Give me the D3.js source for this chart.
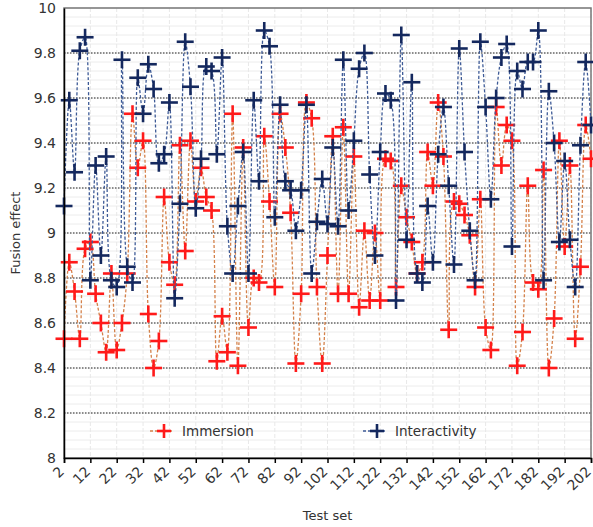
<!DOCTYPE html>
<html>
<head>
<meta charset="utf-8">
<script src="https://cdn.jsdelivr.net/npm/d3@7"></script>
<style>
  body { margin: 0; background: #fff; }
  text { font-family: "DejaVu Sans", Verdana, sans-serif; fill: #333; }
</style>
</head>
<body>
<script>
// test set numbers 2, 4, ... 202
const testSet = d3.range(2, 203, 2);

const immersion = [
  8.53, 8.87, 8.74, 8.53, 8.93, 8.96, 8.73, 8.60, 8.47, 8.82,
  8.48, 8.60, 8.82, 9.53, 9.29, 9.41, 8.64, 8.40, 8.52, 9.16,
  8.87, 8.77, 9.39, 8.92, 9.41, 9.14, 9.29, 9.16, 9.10, 8.43,
  8.63, 8.47, 9.53, 8.41, 9.38, 8.58, 8.80, 8.78, 9.43, 9.14,
  8.76, 9.53, 9.38, 9.09, 8.42, 8.73, 9.58, 9.51, 8.76, 8.42,
  8.90, 9.43, 8.73, 9.47, 8.73, 9.34, 8.67, 9.01, 8.70, 9.00,
  8.70, 9.33, 9.32, 8.76, 9.21, 9.07, 8.96, 8.82, 8.87, 9.36,
  9.21, 9.58, 9.34, 8.57, 9.14, 9.13, 9.08, 8.99, 8.76, 9.15,
  8.58, 8.48, 9.56, 9.30, 9.48, 9.41, 8.41, 8.56, 9.21, 8.78,
  8.75, 9.28, 8.40, 8.62, 9.41, 8.94, 9.30, 8.53, 8.85, 9.48,
  9.33
];

const interactivity = [
  9.12, 9.59, 9.27, 9.81, 9.87, 8.79, 9.30, 8.90, 9.34, 8.79,
  8.76, 9.77, 8.85, 8.78, 9.69, 9.53, 9.75, 9.64, 9.31, 9.35,
  9.58, 8.71, 9.13, 9.85, 9.65, 9.11, 9.33, 9.74, 9.72, 9.35,
  9.78, 9.03, 8.82, 9.12, 9.36, 8.82, 9.59, 9.23, 9.90, 9.83,
  9.07, 9.57, 9.23, 9.19, 9.01, 9.19, 9.57, 8.82, 9.05, 9.24,
  9.04, 9.38, 9.03, 9.77, 9.10, 9.41, 9.73, 9.80, 9.26, 8.90,
  9.36, 9.62, 9.59, 8.70, 9.88, 8.97, 9.67, 8.82, 8.78, 9.12,
  8.87, 9.35, 9.56, 9.21, 8.86, 9.82, 9.36, 9.01, 8.79, 9.85,
  9.56, 9.15, 9.60, 9.78, 9.84, 8.94, 9.72, 9.64, 9.76, 9.76,
  9.90, 8.79, 9.63, 9.40, 8.96, 9.32, 8.97, 8.76, 9.39, 9.76,
  9.48
];

const xTicks = d3.range(2, 203, 10);
const yTicks = [8, 8.2, 8.4, 8.6, 8.8, 9, 9.2, 9.4, 9.6, 9.8, 10];

const series = [
  { name: 'Immersion', values: immersion, line: '#d4814a', mark: '#ff1a1a' },
  { name: 'Interactivity', values: interactivity, line: '#3d5a96', mark: '#14285e' }
];

const width = 593, height = 527;
const margin = { top: 8, right: 2, bottom: 69, left: 64 };

const svg = d3.select('body').append('svg')
  .attr('width', width)
  .attr('height', height);

const x = d3.scaleLinear().domain([2, 202]).range([margin.left, width - margin.right]);
const y = d3.scaleLinear().domain([8, 10]).range([height - margin.bottom, margin.top]);

// minor grid
svg.append('g')
  .selectAll('line')
  .data(d3.range(8, 10.001, 0.04))
  .join('line')
  .attr('x1', margin.left).attr('x2', width - margin.right)
  .attr('y1', d => y(d)).attr('y2', d => y(d))
  .attr('stroke', '#ececec').attr('stroke-width', 1);

svg.append('g')
  .selectAll('line')
  .data(xTicks)
  .join('line')
  .attr('x1', d => x(d)).attr('x2', d => x(d))
  .attr('y1', margin.top).attr('y2', height - margin.bottom)
  .attr('stroke', '#e8e8e8').attr('stroke-width', 1)
  .attr('stroke-dasharray', '4,2');

// major dotted grid
svg.append('g')
  .selectAll('line')
  .data(yTicks.slice(1, -1))
  .join('line')
  .attr('x1', margin.left).attr('x2', width - margin.right)
  .attr('y1', d => y(d)).attr('y2', d => y(d))
  .attr('stroke', '#222').attr('stroke-width', 1)
  .attr('stroke-dasharray', '1.5,1.5');

// frame
svg.append('rect')
  .attr('x', margin.left).attr('y', margin.top)
  .attr('width', width - margin.right - margin.left)
  .attr('height', height - margin.bottom - margin.top)
  .attr('fill', 'none').attr('stroke', '#777').attr('stroke-width', 1.5);

const line = d3.line()
  .x((d, i) => x(testSet[i]))
  .y(d => y(d))
  .curve(d3.curveCatmullRom.alpha(0.5));

const cross = (g, s, size) => {
  g.append('line').attr('x1', -size).attr('x2', size).attr('y1', 0).attr('y2', 0);
  g.append('line').attr('x1', 0).attr('x2', 0).attr('y1', -size).attr('y2', size);
  g.attr('stroke', s.mark).attr('stroke-width', 2.6);
};

series.forEach(s => {
  svg.append('path')
    .datum(s.values)
    .attr('d', line)
    .attr('fill', 'none')
    .attr('stroke', s.line)
    .attr('stroke-width', 1.3)
    .attr('stroke-dasharray', '3,2');

  svg.append('g')
    .selectAll('g')
    .data(s.values)
    .join('g')
    .attr('transform', (d, i) => `translate(${x(testSet[i])},${y(d)})`)
    .each(function () { cross(d3.select(this), s, 8.5); });
});

// axes
const yAxis = svg.append('g')
  .attr('transform', `translate(${margin.left},0)`)
  .call(d3.axisLeft(y).tickValues(yTicks).tickSize(0).tickPadding(8)
    .tickFormat(d => d3.format('~g')(d)));
yAxis.select('.domain').attr('stroke', '#000').attr('stroke-width', 1.5);
yAxis.selectAll('text').style('font-size', '14px').attr('fill', '#333');

const xAxis = svg.append('g')
  .attr('transform', `translate(0,${height - margin.bottom})`)
  .call(d3.axisBottom(x).tickValues(xTicks).tickSize(5).tickPadding(6));
xAxis.select('.domain').attr('stroke', '#000').attr('stroke-width', 1.5);
xAxis.selectAll('line').attr('stroke', '#000').attr('stroke-width', 1.5);
xAxis.selectAll('text')
  .style('font-size', '14px')
  .attr('fill', '#333')
  .attr('text-anchor', 'end')
  .attr('x', 0).attr('y', 0)
  .attr('dy', '0.35em')
  .attr('transform', 'translate(-3,11) rotate(-45)');

svg.append('text')
  .attr('x', (margin.left + width - margin.right) / 2)
  .attr('y', 520)
  .attr('text-anchor', 'middle')
  .style('font-size', '13px')
  .text('Test set');

svg.append('text')
  .attr('transform', `translate(20,${(margin.top + height - margin.bottom) / 2}) rotate(-90)`)
  .attr('text-anchor', 'middle')
  .style('font-size', '13px')
  .text('Fusion effect');

// legend
const legendX = [150, 363];
series.forEach((s, i) => {
  const g = svg.append('g').attr('transform', `translate(${legendX[i]},431)`);
  g.append('line')
    .attr('x1', 0).attr('x2', 22).attr('y1', 0).attr('y2', 0)
    .attr('stroke', s.line).attr('stroke-width', 1.3).attr('stroke-dasharray', '3,2');
  const m = g.append('g').attr('transform', 'translate(14,0)');
  cross(m, s, 7);
  g.append('text')
    .attr('x', 32).attr('y', 5)
    .style('font-size', '13.5px')
    .text(s.name);
});
</script>
</body>
</html>
